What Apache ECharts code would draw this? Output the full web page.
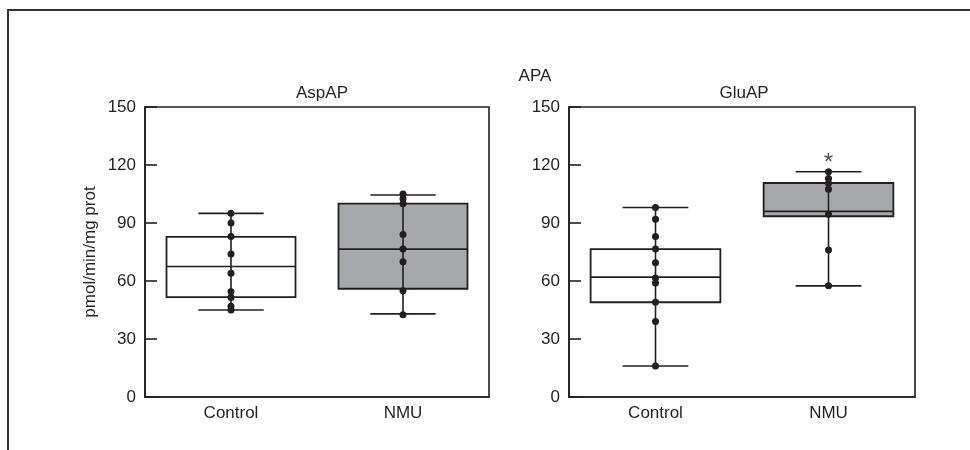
<!DOCTYPE html>
<html>
<head>
<meta charset="utf-8">
<script src="https://cdn.jsdelivr.net/npm/echarts@6/dist/echarts.min.js"></script>
<style>
  html, body { margin: 0; padding: 0; background: #fff; }
  #main { width: 970px; height: 450px; }
</style>
</head>
<body>
<div id="main"></div>
<script>
var categories = ['Control', 'NMU'];
var yTicks = [0, 30, 60, 90, 120, 150];

// box stats: [min, Q1, median, Q3, max]
var aspStats = [[45, 51.7, 67.5, 82.8, 95], [43, 56, 76.5, 100, 104.5]];
var gluStats = [[16, 49, 62, 76.5, 98], [57.5, 93.5, 96, 110.7, 116.5]];

// individual values per group
var aspControl = [95, 90, 83, 74, 64, 54.5, 51.5, 47, 45];
var aspNmu = [105, 102.5, 100, 84, 76.5, 70, 55, 42.5];
var gluControl = [98, 92, 83, 76.5, 69.5, 61.5, 59, 49, 39, 16];
var gluNmu = [116.5, 113, 110.5, 107.5, 94.5, 76, 57.5];

// significance marker position (category index, value)
var sigMarks = [[1, 121]];

var ink = '#231f20';
var fills = ['#ffffff', '#a7a8ab'];

var chartDom = document.getElementById('main');
var myChart = echarts.init(chartDom);

function boxItem(params, api) {
  var idx = api.value(0);
  var lo = api.coord([idx, api.value(1)]);
  var q1 = api.coord([idx, api.value(2)]);
  var med = api.coord([idx, api.value(3)]);
  var q3 = api.coord([idx, api.value(4)]);
  var hi = api.coord([idx, api.value(5)]);
  var band = api.size([1, 0])[0];
  var bw = band * 0.75;
  var cw = band * 0.19;
  var x = lo[0];
  var st = { stroke: ink, lineWidth: 1.6 };
  return {
    type: 'group',
    children: [
      { type: 'rect', shape: { x: x - bw / 2, y: q3[1], width: bw, height: q1[1] - q3[1] },
        style: { fill: fills[idx], stroke: ink, lineWidth: 1.8 } },
      { type: 'line', shape: { x1: x, y1: lo[1], x2: x, y2: hi[1] }, style: st },
      { type: 'line', shape: { x1: x - bw / 2, y1: med[1], x2: x + bw / 2, y2: med[1] }, style: st },
      { type: 'line', shape: { x1: x - cw, y1: lo[1], x2: x + cw, y2: lo[1] }, style: st },
      { type: 'line', shape: { x1: x - cw, y1: hi[1], x2: x + cw, y2: hi[1] }, style: st }
    ]
  };
}

function statRows(stats) {
  return stats.map(function (s, i) { return [i].concat(s); });
}

function pointRows(idx, vals) {
  return vals.map(function (v) { return [idx, v]; });
}

var axisFont = { fontFamily: 'Liberation Sans', fontSize: 17, color: ink };

function xAxisFor(gi) {
  return {
    type: 'category', gridIndex: gi, data: categories,
    axisLine: { lineStyle: { color: ink, width: 1.6 } },
    axisTick: { inside: true, alignWithLabel: true, length: 10, lineStyle: { color: ink, width: 1.6 } },
    axisLabel: Object.assign({ margin: 8 }, axisFont)
  };
}

function yAxisFor(gi, withName) {
  var ax = {
    type: 'value', gridIndex: gi, min: 0, max: 150, interval: 30,
    axisLine: { show: true, lineStyle: { color: ink, width: 1.6 } },
    axisTick: { show: true, inside: true, length: 12, lineStyle: { color: ink, width: 1.6 } },
    axisLabel: Object.assign({ margin: 9, formatter: function (v) { return yTicks.indexOf(v) >= 0 ? String(v) : ''; } }, axisFont),
    splitLine: { show: false }
  };
  if (withName) {
    ax.name = 'pmol/min/mg prot';
    ax.nameLocation = 'middle';
    ax.nameGap = 46;
    ax.nameTextStyle = { fontFamily: 'Liberation Sans', fontSize: 17, color: ink };
  }
  return ax;
}

function dots(gi, idx, vals) {
  return {
    type: 'scatter', xAxisIndex: gi, yAxisIndex: gi, z: 5,
    symbol: 'circle', symbolSize: 7, itemStyle: { color: ink, opacity: 1 },
    data: pointRows(idx, vals)
  };
}

var titleFont = { fontFamily: 'Liberation Sans', fontSize: 17, fontWeight: 'normal', color: ink };

var option = {
  animation: false,
  title: [
    { text: 'APA', left: 530, top: 63, textAlign: 'center', textStyle: titleFont },
    { text: 'AspAP', left: 317, top: 80, textAlign: 'center', textStyle: titleFont },
    { text: 'GluAP', left: 739, top: 80, textAlign: 'center', textStyle: titleFont }
  ],
  graphic: [
    { type: 'polyline', shape: { points: [[8, 450], [8, 10], [970, 10]] },
      style: { stroke: '#333', lineWidth: 2, fill: null } }
  ],
  grid: [
    { left: 145, top: 107, width: 344, height: 290, show: true, borderColor: ink, borderWidth: 1.6 },
    { left: 569, top: 107, width: 346, height: 290, show: true, borderColor: ink, borderWidth: 1.6 }
  ],
  xAxis: [xAxisFor(0), xAxisFor(1)],
  yAxis: [yAxisFor(0, true), yAxisFor(1, false)],
  series: [
    { type: 'custom', xAxisIndex: 0, yAxisIndex: 0, renderItem: boxItem,
      encode: { x: 0, y: [1, 2, 3, 4, 5] }, data: statRows(aspStats) },
    { type: 'custom', xAxisIndex: 1, yAxisIndex: 1, renderItem: boxItem,
      encode: { x: 0, y: [1, 2, 3, 4, 5] }, data: statRows(gluStats) },
    dots(0, 0, aspControl),
    dots(0, 1, aspNmu),
    dots(1, 0, gluControl),
    dots(1, 1, gluNmu),
    {
      type: 'scatter', xAxisIndex: 1, yAxisIndex: 1, symbolSize: 0,
      data: sigMarks,
      label: { show: true, position: 'inside', formatter: '*', fontFamily: 'Liberation Sans', fontSize: 24, color: ink }
    }
  ]
};

option && myChart.setOption(option);
</script>
</body>
</html>
